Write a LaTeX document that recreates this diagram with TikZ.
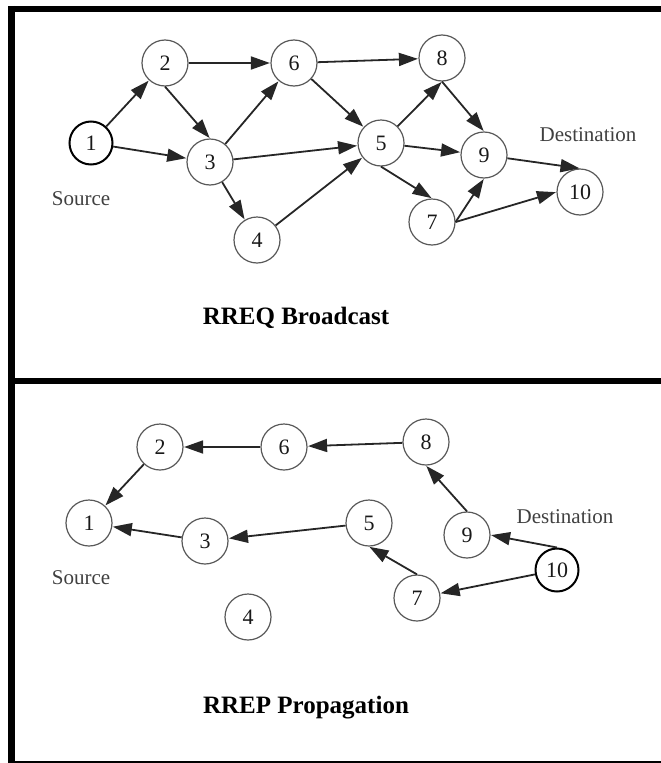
\documentclass[tikz,border=0pt]{standalone}
\usepackage{fontspec}
\setmainfont{Liberation Serif}
\usetikzlibrary{arrows.meta}
\begin{document}
\begin{tikzpicture}[x=1pt,y=-1pt,
  nd/.style={circle,draw=black!65,line width=1.2pt,fill=white,minimum size=46pt,inner sep=0pt,
    font=\fontsize{22}{22}\selectfont,text=black!90},
  endpt/.style={nd,draw=black,line width=2pt,minimum size=43pt},
  edge/.style={draw=black!85,line width=1.8pt,-{Triangle[length=19pt,width=13pt]},shorten >=0.5pt},
  lbl/.style={font=\fontsize{21}{21}\selectfont,text=black!75},
  ttl/.style={font=\fontsize{25}{25}\selectfont\bfseries,text=black},
  frame/.style={line width=6.5pt,black}]
\useasboundingbox (0,0) rectangle (661,763);

% panel frame
\draw[frame] (11.5,9) -- (661,9);
\draw[frame] (11.5,5.75) -- (11.5,763);
\draw[frame] (8,381) -- (661,381);
\draw[line width=2pt] (8,762) -- (661,762);

% ---------- upper panel: RREQ broadcast ----------
\node[endpt] (a1) at (91,143) {1};
\node[nd] (a2) at (165,63) {2};
\node[nd] (a3) at (210,162) {3};
\node[nd] (a4) at (257,240) {4};
\node[nd] (a5) at (381,143) {5};
\node[nd] (a6) at (294,63) {6};
\node[nd] (a7) at (432,222) {7};
\node[nd] (a8) at (442,58) {8};
\node[nd] (a9) at (484,155) {9};
\node[nd] (a10) at (580,192) {10};

\node[lbl] (srcA) at (81,199) {Source};
\node[lbl] (dstA) at (588,135) {Destination};
\node[ttl] (ttlA) at (296,318) {RREQ Broadcast};

\draw[edge] (a1) -- (a2);
\draw[edge] (a1) -- (a3);
\draw[edge] (a2) -- (a6);
\draw[edge] (a2.south) -- (a3.north);
\draw[edge] (a3) -- (a6);
\draw[edge] (a3) -- (a5);
\draw[edge] (a3) -- (a4);
\draw[edge] (a4) -- (a5);
\draw[edge] (a6) -- (a8);
\draw[edge] (a6) -- (a5);
\draw[edge] (a5) -- (a8.south);
\draw[edge] (a5) -- (a9);
\draw[edge] (a5.south) -- (a7.north);
\draw[edge] (a8.south) -- (a9.north);
\draw[edge] (a9) -- (a10.north);
\draw[edge] (a7.east) -- (a9.south);
\draw[edge] (a7.east) -- (a10.west);

% ---------- lower panel: RREP propagation ----------
\node[nd] (b1) at (89,523) {1};
\node[nd] (b2) at (160,447) {2};
\node[nd] (b3) at (205,541) {3};
\node[nd] (b4) at (248,617) {4};
\node[nd] (b5) at (369,523) {5};
\node[nd] (b6) at (284,447) {6};
\node[nd] (b7) at (417,598) {7};
\node[nd] (b8) at (426,442) {8};
\node[nd] (b9) at (467,535) {9};
\node[endpt] (b10) at (557,570) {10};

\node[lbl] (srcB) at (81,578) {Source};
\node[lbl] (dstB) at (565,517) {Destination};
\node[ttl] (ttlB) at (306,708) {RREP Propagation};

\draw[edge] (b6) -- (b2);
\draw[edge] (b8) -- (b6);
\draw[edge] (b2) -- (b1);
\draw[edge] (b3) -- (b1);
\draw[edge] (b5) -- (b3);
\draw[edge] (b9.north) -- (b8.south);
\draw[edge] (b10.north) -- (b9.east);
\draw[edge] (b10) -- (b7);
\draw[edge] (b7.north) -- (b5.south);
\end{tikzpicture}
\end{document}
